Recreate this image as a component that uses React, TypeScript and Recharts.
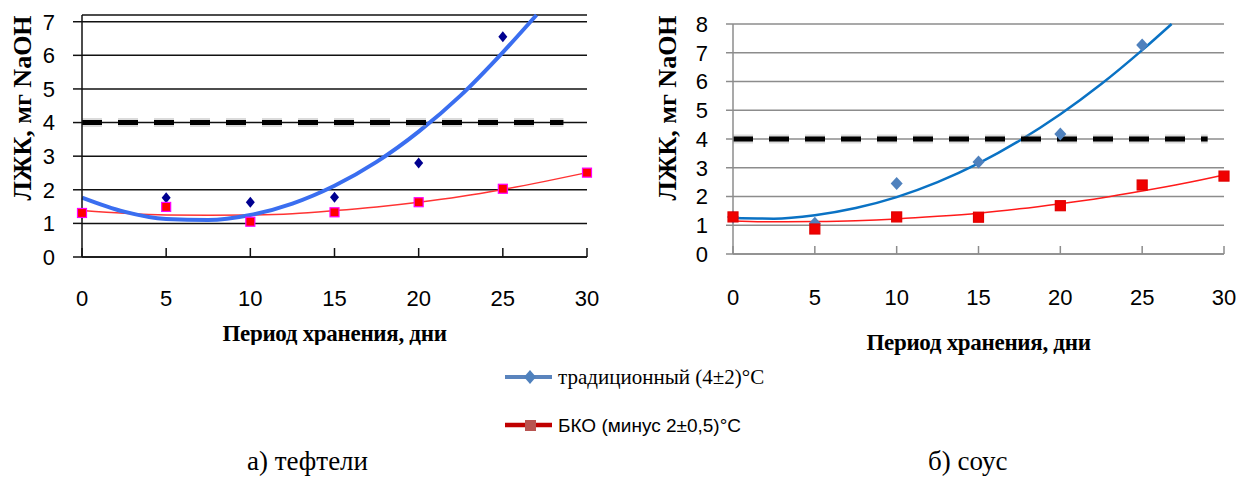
import React from 'react';
import { ComposedChart, Line, XAxis, YAxis, CartesianGrid, Label } from 'recharts';

// ---- data ----
const xTicks = [0, 5, 10, 15, 20, 25, 30];
const meatYTicks = [0, 1, 2, 3, 4, 5, 6, 7];
const sauceYTicks = [0, 1, 2, 3, 4, 5, 6, 7, 8];

const bkoDays = [0, 5, 10, 15, 20, 25, 30];
const tradDays = [0, 5, 10, 15, 20, 25];

// а) тефтели
const meatTrad = [1.3, 1.76, 1.63, 1.78, 2.8, 6.55];
const meatBko = [1.31, 1.49, 1.05, 1.33, 1.63, 2.03, 2.51];
// б) соус
const sauceTrad = [1.29, 1.07, 2.45, 3.2, 4.17, 7.27];
const sauceBko = [1.29, 0.87, 1.29, 1.28, 1.68, 2.4, 2.71];

// trend lines
const trendDays = [0, 2.5, 5, 7.5, 10, 12.5, 15, 17.5, 20, 22.5, 25, 27.5, 30];
const meatTradTrendDays = [0, 2.5, 5, 7.5, 10, 12.5, 15, 17.5, 20, 22.5, 25, 27];
const meatTradTrend = [1.77, 1.35, 1.13, 1.1, 1.25, 1.59, 2.12, 2.83, 3.73, 4.81, 6.09, 7.2];
const meatBkoTrend = [1.38, 1.3, 1.25, 1.24, 1.25, 1.29, 1.38, 1.49, 1.63, 1.8, 2.01, 2.25, 2.51];
const sauceTradTrendDays = [0, 2.5, 5, 7.5, 10, 12.5, 15, 17.5, 20, 22.5, 25, 26.8];
const sauceTradTrend = [1.25, 1.23, 1.35, 1.6, 1.98, 2.5, 3.15, 3.94, 4.86, 5.91, 7.09, 8.0];
const sauceBkoTrend = [1.15, 1.12, 1.13, 1.16, 1.22, 1.31, 1.42, 1.57, 1.75, 1.95, 2.19, 2.45, 2.75];

// limit line
const limitValues = [4, 4];
const meatLimitDays = [0, 28.6];
const sauceLimitDays = [0, 29];

const yTitle = 'ЛЖК, мг NaOH';
const xTitle = 'Период хранения, дни';
const legendTrad = 'традиционный  (4±2)°C';
const legendBko = 'БКО (минус 2±0,5)°C';
const captionMeat = 'а) тефтели';
const captionSauce = 'б) соус';

const zip = (xs: number[], ys: number[]) => xs.map((x, i) => ({ x, y: ys[i] }));

const diamondDot = (color: string, w: number, h: number) => (p: any) => {
  const { cx, cy, index } = p;
  if (cx == null || cy == null) return <g key={`n${index}`} />;
  return (
    <path
      key={`d${index}`}
      d={`M${cx},${cy - h / 2}L${cx + w / 2},${cy}L${cx},${cy + h / 2}L${cx - w / 2},${cy}Z`}
      fill={color}
    />
  );
};

const squareDot = (fill: string, stroke: string, s: number) => (p: any) => {
  const { cx, cy, index } = p;
  if (cx == null || cy == null) return <g key={`n${index}`} />;
  return (
    <rect key={`s${index}`} x={cx - s / 2} y={cy - s / 2} width={s} height={s} fill={fill} stroke={stroke} strokeWidth={1.2} />
  );
};

const sansFont = "'Liberation Sans', Arial, sans-serif";
const serifFont = "'Liberation Serif', 'DejaVu Serif', 'Times New Roman', serif";
const tickStyle = { fontSize: 22, fill: '#000', fontFamily: sansFont };

const yTitleContent = (dx: number, dy: number) => (p: any) => {
  const vb = p.viewBox || {};
  const x = (vb.x || 0) + dx;
  const y = (vb.y || 0) + dy;
  return (
    <text x={x} y={y} transform={`rotate(-90, ${x}, ${y})`} textAnchor="middle" dominantBaseline="central"
      fontSize={26} fontWeight="bold" style={{ fontFamily: serifFont }} fill="#000">
      {yTitle}
    </text>
  );
};

const xTitleContent = (dy: number) => (p: any) => {
  const vb = p.viewBox || {};
  const x = (vb.x || 0) + (vb.width || 0) / 2;
  const y = (vb.y || 0) + dy;
  return (
    <text x={x} y={y} textAnchor="middle" dominantBaseline="central" fontSize={23} fontWeight="bold"
      style={{ fontFamily: serifFont }} fill="#000" letterSpacing={-0.3}>
      {xTitle}
    </text>
  );
};

function MeatChart() {
  return (
    <ComposedChart width={600} height={345} margin={{ top: 15, right: 13, bottom: 0, left: 0 }}>
      <CartesianGrid vertical={false} stroke="#111" strokeWidth={1.5} />
      <XAxis type="number" dataKey="x" domain={[0, 30]} ticks={xTicks} interval={0} height={88}
        tickSize={-9} tickMargin={42} tick={tickStyle}
        axisLine={{ stroke: '#111', strokeWidth: 1.5 }} tickLine={{ stroke: '#111', strokeWidth: 1.5 }}>
        <Label content={xTitleContent(76)} />
      </XAxis>
      <YAxis type="number" domain={[0, 7.2]} ticks={meatYTicks} interval={0} width={82}
        tickSize={9} tickMargin={18} tick={tickStyle}
        axisLine={{ stroke: '#111', strokeWidth: 1.5 }} tickLine={{ stroke: '#111', strokeWidth: 1.5 }}>
        <Label content={yTitleContent(22, 93)} />
      </YAxis>
      <Line data={zip(trendDays, meatBkoTrend)} dataKey="y" type="monotone" stroke="#ff3333" strokeWidth={1.5}
        dot={false} activeDot={false} isAnimationActive={false} />
      <Line data={zip(meatTradTrendDays, meatTradTrend)} dataKey="y" type="monotone" stroke="#3a6ef0" strokeWidth={4}
        dot={false} activeDot={false} isAnimationActive={false} />
      <Line data={zip(tradDays, meatTrad)} dataKey="y" stroke="none" dot={diamondDot('#000090', 9, 11)}
        activeDot={false} isAnimationActive={false} />
      <Line data={zip(bkoDays, meatBko)} dataKey="y" stroke="none" dot={squareDot('#ff0000', '#ff00ff', 9)}
        activeDot={false} isAnimationActive={false} />
      <Line data={zip(meatLimitDays, limitValues)} dataKey="y" stroke="#999" strokeOpacity={0.35} strokeWidth={9}
        strokeDasharray="20 16" dot={false} activeDot={false} isAnimationActive={false} />
      <Line data={zip(meatLimitDays, limitValues)} dataKey="y" stroke="#000" strokeWidth={5} strokeDasharray="20 16"
        dot={false} activeDot={false} isAnimationActive={false} />
    </ComposedChart>
  );
}

function SauceChart() {
  return (
    <ComposedChart width={600} height={360} margin={{ top: 24, right: 16, bottom: 0, left: 0 }}>
      <CartesianGrid vertical={false} stroke="#8c8c8c" strokeWidth={1.5} />
      <XAxis type="number" dataKey="x" domain={[0, 30]} ticks={xTicks} interval={0} height={106}
        tickSize={-8} tickMargin={43} tick={tickStyle}
        axisLine={{ stroke: '#8c8c8c', strokeWidth: 1.5 }} tickLine={{ stroke: '#8c8c8c', strokeWidth: 1.5 }}>
        <Label content={xTitleContent(88)} />
      </XAxis>
      <YAxis type="number" domain={[0, 8]} ticks={sauceYTicks} interval={0} width={93}
        tickSize={7} tickMargin={18} tick={tickStyle}
        axisLine={{ stroke: '#8c8c8c', strokeWidth: 1.5 }} tickLine={{ stroke: '#8c8c8c', strokeWidth: 1.5 }}>
        <Label content={yTitleContent(27, 84)} />
      </YAxis>
      <Line data={zip(trendDays, sauceBkoTrend)} dataKey="y" type="monotone" stroke="#ff1a1a" strokeWidth={1.5}
        dot={false} activeDot={false} isAnimationActive={false} />
      <Line data={zip(sauceTradTrendDays, sauceTradTrend)} dataKey="y" type="monotone" stroke="#0a72c4" strokeWidth={2.5}
        dot={false} activeDot={false} isAnimationActive={false} />
      <Line data={zip(tradDays, sauceTrad)} dataKey="y" stroke="none" dot={diamondDot('#4f81bd', 12, 13)}
        activeDot={false} isAnimationActive={false} />
      <Line data={zip(bkoDays, sauceBko)} dataKey="y" stroke="none" dot={squareDot('#f00000', '#e00000', 10)}
        activeDot={false} isAnimationActive={false} />
      <Line data={zip(sauceLimitDays, limitValues)} dataKey="y" stroke="#999" strokeOpacity={0.35} strokeWidth={9}
        strokeDasharray="20 16" dot={false} activeDot={false} isAnimationActive={false} />
      <Line data={zip(sauceLimitDays, limitValues)} dataKey="y" stroke="#000" strokeWidth={5} strokeDasharray="20 16"
        dot={false} activeDot={false} isAnimationActive={false} />
    </ComposedChart>
  );
}

export default function App() {
  return (
    <div style={{ position: 'absolute', left: 0, top: 0, width: 1247, height: 479, background: '#fff', overflow: 'hidden' }}>
      <div style={{ position: 'absolute', left: 0, top: 0 }}>
        <MeatChart />
      </div>
      <div style={{ position: 'absolute', left: 640, top: 0 }}>
        <SauceChart />
      </div>
      <svg style={{ position: 'absolute', left: 500, top: 355 }} width={320} height={90}>
        <line x1={5} y1={22} x2={52} y2={22} stroke="#5a84bd" strokeWidth={4} />
        <path d="M30,15L36,22L30,29L24,22Z" fill="#4f81bd" />
        <text x={58} y={22} dominantBaseline="central" fontSize={21} style={{ fontFamily: serifFont }} fill="#000">{legendTrad}</text>
        <line x1={5} y1={70} x2={52} y2={70} stroke="#c00000" strokeWidth={4.5} />
        <rect x={25} y={65} width={11} height={11} fill="#b85450" />
        <text x={58} y={70} dominantBaseline="central" fontSize={19} style={{ fontFamily: sansFont }} fill="#000">{legendBko}</text>
      </svg>
      <div style={{ position: 'absolute', left: 247, top: 447, fontSize: 27, fontFamily: serifFont, lineHeight: '28px' }}>{captionMeat}</div>
      <div style={{ position: 'absolute', left: 928, top: 447, fontSize: 27, fontFamily: serifFont, lineHeight: '28px' }}>{captionSauce}</div>
    </div>
  );
}
